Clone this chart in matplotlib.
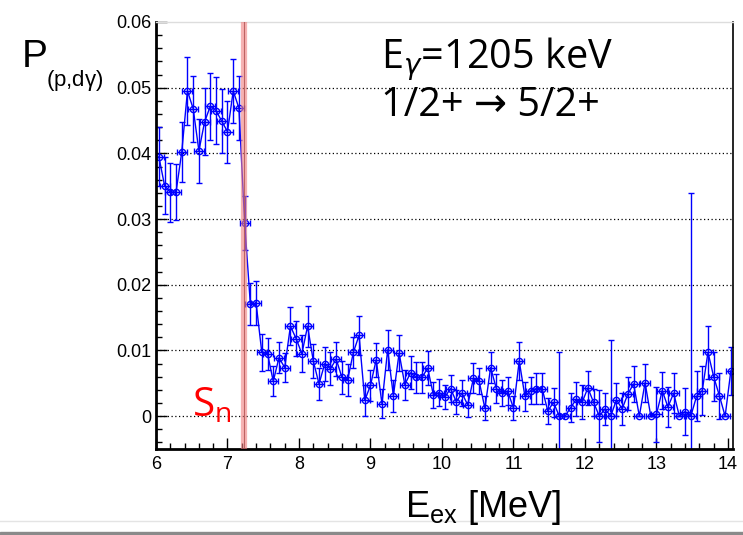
import numpy as np
import matplotlib
matplotlib.use("Agg")
import matplotlib.pyplot as plt
from matplotlib.lines import Line2D
from matplotlib.patches import Rectangle

# bin centres: 101 bins of 80 keV starting at 6.0 MeV
bin_start = 6.04
bin_width = 0.08
prob = [
    0.0395, 0.0351, 0.0341, 0.0341, 0.0402, 0.0495, 0.0468, 0.0404, 0.0448, 0.0472,
    0.0465, 0.0449, 0.0433, 0.0495, 0.0469, 0.0294, 0.0170, 0.0172, 0.0097, 0.0095,
    0.0053, 0.0089, 0.0074, 0.0137, 0.0118, 0.0095, 0.0137, 0.0084, 0.0049, 0.0080,
    0.0072, 0.0087, 0.0059, 0.0055, 0.0097, 0.0123, 0.0024, 0.0047, 0.0086, 0.0019,
    0.0101, 0.0031, 0.0096, 0.0048, 0.0066, 0.0059, 0.0059, 0.0073, 0.0032, 0.0036,
    0.0029, 0.0042, 0.0022, 0.0035, 0.0017, 0.0058, 0.0053, 0.0012, 0.0074, 0.0042,
    0.0035, 0.0038, 0.0012, 0.0084, 0.0030, 0.0039, 0.0042, 0.0042, 0.0008, 0.0021,
    0.0000, 0.0000, 0.0013, 0.0026, 0.0021, 0.0043, 0.0021, 0.0000, 0.0011, 0.0000,
    0.0025, 0.0011, 0.0034, 0.0049, 0.0000, 0.0051, 0.0000, 0.0003, 0.0039, 0.0014,
    0.0035, 0.0000, 0.0007, 0.0000, 0.0030, 0.0039, 0.0097, 0.0060, 0.0031, 0.0000,
    0.0069,
]
prob_err = [
    0.0045, 0.0044, 0.0045, 0.0043, 0.0046, 0.0052, 0.0050, 0.0049, 0.0051, 0.0051,
    0.0051, 0.0049, 0.0047, 0.0049, 0.0049, 0.0041, 0.0032, 0.0034, 0.0028, 0.0024,
    0.0023, 0.0024, 0.0022, 0.0029, 0.0027, 0.0028, 0.0031, 0.0026, 0.0024, 0.0026,
    0.0025, 0.0026, 0.0025, 0.0025, 0.0024, 0.0030, 0.0024, 0.0024, 0.0026, 0.0022,
    0.0030, 0.0024, 0.0028, 0.0023, 0.0025, 0.0024, 0.0024, 0.0026, 0.0020, 0.0020,
    0.0018, 0.0021, 0.0018, 0.0020, 0.0018, 0.0023, 0.0020, 0.0018, 0.0023, 0.0022,
    0.0020, 0.0021, 0.0018, 0.0029, 0.0022, 0.0021, 0.0023, 0.0024, 0.0020, 0.0022,
    0.0097, 0.0000, 0.0022, 0.0026, 0.0026, 0.0026, 0.0021, 0.0040, 0.0025, 0.0116,
    0.0025, 0.0024, 0.0025, 0.0028, 0.0000, 0.0029, 0.0000, 0.0042, 0.0028, 0.0031,
    0.0030, 0.0000, 0.0036, 0.0340, 0.0038, 0.0038, 0.0040, 0.0037, 0.0035, 0.0000,
    0.0037,
]
e_err = 0.07
s_n = 7.23

e_ex = bin_start + bin_width * np.arange(len(prob))

W, H = 743, 535
fig = plt.figure(figsize=(W / 100, H / 100), dpi=100)
ax = fig.add_axes([156 / W, 1 - 449 / H, (733 - 156) / W, (449 - 22) / H])

ax.errorbar(e_ex, prob, yerr=prob_err, xerr=e_err, color="#0000ff", lw=1,
            elinewidth=1, capsize=2.5, capthick=1, marker="o", ms=4.5,
            mfc="none", mec="#0000ff", mew=1)

# neutron separation energy
ax.axvline(s_n, color="#f08080", lw=4.5, alpha=0.6, zorder=5)
ax.axvline(s_n, color="#b05050", lw=0.8, alpha=0.8, zorder=6)

ax.set_xlim(6, 14.07)
ax.set_ylim(-0.005, 0.06)
ax.set_xticks(range(6, 15))
ax.set_xticks(np.arange(6, 14.05, 0.2), minor=True)
ax.set_yticks([0, 0.01, 0.02, 0.03, 0.04, 0.05, 0.06])
ax.set_yticklabels(["0", "0.01", "0.02", "0.03", "0.04", "0.05", "0.06"])
ax.set_yticks(np.arange(-0.004, 0.0601, 0.002), minor=True)
ax.tick_params(which="both", direction="in", labelsize=13, color="black")
ax.tick_params(which="major", length=8, width=1)
ax.tick_params(which="minor", length=4.5, width=1)
ax.tick_params(axis="x", pad=5)
for lab in ax.get_xticklabels() + ax.get_yticklabels():
    lab.set_family("Liberation Sans")

for y in [0, 0.01, 0.02, 0.03, 0.04, 0.05]:
    ax.axhline(y, color="black", lw=0.9, ls=(0, (1, 2)), zorder=0)

ax.spines["left"].set_linewidth(2)
ax.spines["bottom"].set_linewidth(2)
ax.spines["right"].set_linewidth(1.2)
ax.spines["top"].set_color("#dddddd")
ax.spines["top"].set_linewidth(1)

# axis titles
fig.text(22 / W, 1 - 67 / H, "P", fontsize=28, family="Liberation Sans", va="baseline")
fig.text(46 / W, 1 - 86 / H, r"(p,d$\mathregular{\gamma}$)", fontsize=16,
         family="Liberation Sans", va="baseline")
fig.text(405 / W, 1 - 517 / H, r"$\mathregular{E_{ex}}$ [MeV]", fontsize=26,
         family="Liberation Sans", va="baseline")

# labels
fig.text(381 / W, 1 - 68 / H, r"$\mathregular{E}_{\gamma}$=1205 keV", fontsize=28.5,
         family="Open Sans", va="baseline")
fig.text(381 / W, 1 - 116 / H, "1/2+ \u2192 5/2+", fontsize=28.5,
         family=["Open Sans", "DejaVu Sans"], va="baseline")
fig.text(192 / W, 1 - 416 / H, r"$\mathregular{S_n}$", fontsize=29, color="red",
         family="Open Sans", va="baseline")

# slide edge at the bottom
fig.add_artist(Line2D([0, 1], [1 - 521 / H] * 2, color="#e4e4e4", lw=1))
fig.add_artist(Rectangle((0, 0), 1, 3 / H, color="#8a8a8a", transform=fig.transFigure))

fig.savefig("out.png", dpi=100)
